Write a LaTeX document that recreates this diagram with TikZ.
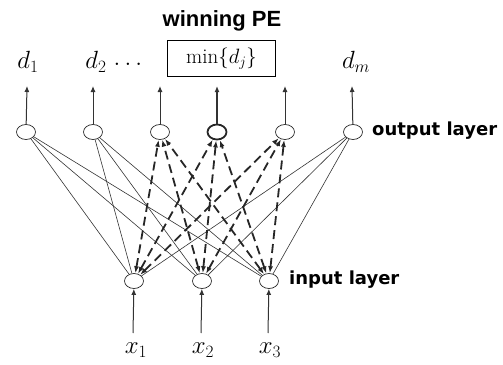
\documentclass[tikz,border=0pt]{standalone}
\usepackage{fontspec}
\newfontfamily\labfont{DejaVu Sans}[BoldFont={DejaVu Sans Bold}]
\newfontfamily\winfont{Liberation Sans}
\usetikzlibrary{arrows.meta,shapes.geometric}
\begin{document}
\begin{tikzpicture}[x=1pt,y=-1pt,
  neuron/.style={draw=black!85,ellipse,minimum width=19pt,minimum height=15pt,inner sep=0pt,line width=0.7pt},
  winner/.style={neuron,line width=1.8pt},
  solidlink/.style={draw=black!80,line width=0.6pt},
  dashlink/.style={draw=black!85,line width=1.8pt,dash pattern=on 9pt off 5pt,{Latex[length=7pt,width=5pt]}-{Latex[length=7pt,width=5pt]}},
  outarrow/.style={draw=black!80,line width=1pt,-{Latex[length=6pt,width=5pt]}},
  lab/.style={inner sep=0pt,font=\fontsize{23}{25}\selectfont},
  layerlab/.style={anchor=west,inner sep=0pt,font=\labfont\bfseries\fontsize{18}{20}\selectfont}
]
\useasboundingbox (0,0) rectangle (503,364);
% output layer
\node[neuron] (o1) at (26,132) {};
\node[neuron] (o2) at (93,132) {};
\node[neuron] (o3) at (160,132) {};
\node[winner] (o4) at (217,132) {};
\node[neuron] (o5) at (285,132) {};
\node[neuron] (o6) at (353,132) {};
% input layer
\node[neuron] (i1) at (134,281) {};
\node[neuron] (i2) at (202,281) {};
\node[neuron] (i3) at (269,281) {};
% top labels
\node[lab] (d1) at (28,62) {$d_1$};
\node[lab] (d2) at (96,62) {$d_2$};
\node[lab] (dots) at (128,64) {$\ldots$};
\node[draw,line width=1.3pt,minimum width=108pt,minimum height=36pt,inner sep=0pt,font=\fontsize{21}{23}\selectfont] (mn) at (221.5,58.5) {$\min\{d_j\}$};
\node[lab] (dm) at (356,62) {$d_m$};
\node[inner sep=0pt,font=\winfont\bfseries\fontsize{22}{24}\selectfont] (win) at (222,21) {winning PE};
% targets for output arrows
\coordinate (t1) at (27,86);
\coordinate (t2) at (93,86);
\coordinate (t3) at (160,86);
\coordinate (t4) at (217,86);
\coordinate (t5) at (285,86);
\coordinate (t6) at (352,86);
\draw[outarrow] (o1) -- (t1);
\draw[outarrow] (o2) -- (t2);
\draw[outarrow] (o3) -- (t3);
\draw[outarrow,line width=1.6pt] (o4) -- (t4);
\draw[outarrow] (o5) -- (t5);
\draw[outarrow] (o6) -- (t6);
% input labels and arrows
\node[lab] (x1) at (136,350) {$x_1$};
\node[lab] (x2) at (203,350) {$x_2$};
\node[lab] (x3) at (270,350) {$x_3$};
\coordinate (s1) at (133,333);
\coordinate (s2) at (201,333);
\coordinate (s3) at (268,333);
\draw[outarrow] (s1) -- (i1);
\draw[outarrow] (s2) -- (i2);
\draw[outarrow] (s3) -- (i3);
% solid connections
\foreach \o in {o1,o2,o6}
  \foreach \i in {i1,i2,i3}
    \draw[solidlink] (\o) -- (\i);
% dashed connections
\foreach \o in {o3,o4,o5}
  \foreach \i in {i1,i2,i3}
    \draw[dashlink] (\i) -- (\o);
% layer labels
\node[layerlab] (ol) at (372,131) {output layer};
\node[layerlab] (il) at (289,280) {input layer};
\end{tikzpicture}
\end{document}
